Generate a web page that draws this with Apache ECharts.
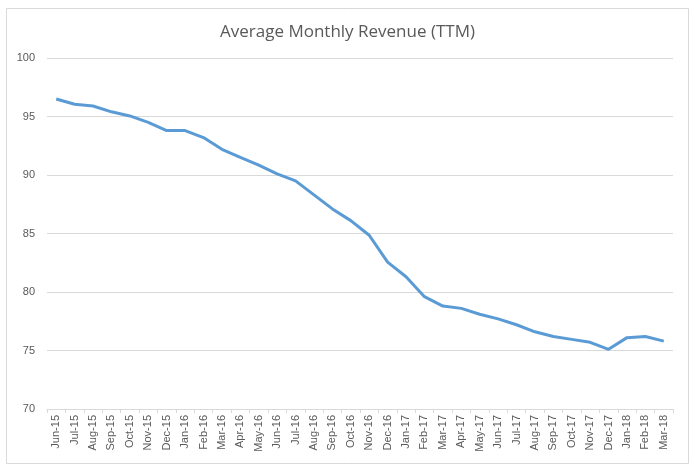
<!DOCTYPE html>
<html>
<head>
<meta charset="utf-8">
<script src="https://cdn.jsdelivr.net/npm/echarts@6/dist/echarts.min.js"></script>
<style>
  html, body { margin: 0; padding: 0; background: #fff; }
  #chart { width: 695px; height: 476px; }
</style>
</head>
<body>
<div id="chart"></div>
<script>
var months = ['Jun-15', 'Jul-15', 'Aug-15', 'Sep-15', 'Oct-15', 'Nov-15', 'Dec-15',
    'Jan-16', 'Feb-16', 'Mar-16', 'Apr-16', 'May-16', 'Jun-16', 'Jul-16', 'Aug-16',
    'Sep-16', 'Oct-16', 'Nov-16', 'Dec-16', 'Jan-17', 'Feb-17', 'Mar-17', 'Apr-17',
    'May-17', 'Jun-17', 'Jul-17', 'Aug-17', 'Sep-17', 'Oct-17', 'Nov-17', 'Dec-17',
    'Jan-18', 'Feb-18', 'Mar-18'];

var revenue = [96.5, 96.05, 95.9, 95.4, 95.05, 94.5, 93.8,
    93.8, 93.2, 92.2, 91.5, 90.85, 90.1, 89.5, 88.3,
    87.1, 86.1, 84.85, 82.55, 81.3, 79.6, 78.8, 78.6,
    78.1, 77.7, 77.2, 76.6, 76.2, 75.95, 75.7, 75.1,
    76.1, 76.2, 75.8];

var chart = echarts.init(document.getElementById('chart'));

chart.setOption({
    animation: false,
    title: {
        text: 'Average Monthly Revenue (TTM)',
        left: 'center',
        top: 19,
        textStyle: {
            fontFamily: 'Open Sans',
            fontWeight: 'normal',
            fontSize: 17,
            color: '#595959'
        }
    },
    graphic: [{
        type: 'rect',
        shape: { x: 6.5, y: 8.5, width: 682, height: 455 },
        style: { fill: 'none', stroke: '#d9d9d9', lineWidth: 1 },
        silent: true
    }],
    grid: { left: 47, right: 22, top: 58, bottom: 67 },
    xAxis: {
        type: 'category',
        data: months,
        boundaryGap: true,
        axisLine: { lineStyle: { color: '#d9d9d9' } },
        axisTick: { show: true, length: 4, lineStyle: { color: '#d9d9d9' } },
        axisLabel: {
            rotate: 90,
            interval: 0,
            fontSize: 11,
            fontFamily: 'Liberation Sans',
            color: '#595959',
            margin: 6
        }
    },
    yAxis: {
        type: 'value',
        min: 70,
        max: 100,
        interval: 5,
        axisLine: { show: false },
        axisTick: { show: false },
        splitLine: { lineStyle: { color: '#d9d9d9' } },
        axisLabel: {
            fontSize: 11,
            fontFamily: 'Liberation Sans',
            color: '#595959',
            margin: 12
        }
    },
    series: [{
        type: 'line',
        data: revenue,
        showSymbol: false,
        lineStyle: { color: '#5b9bd5', width: 3 },
        itemStyle: { color: '#5b9bd5' }
    }]
});
</script>
</body>
</html>
